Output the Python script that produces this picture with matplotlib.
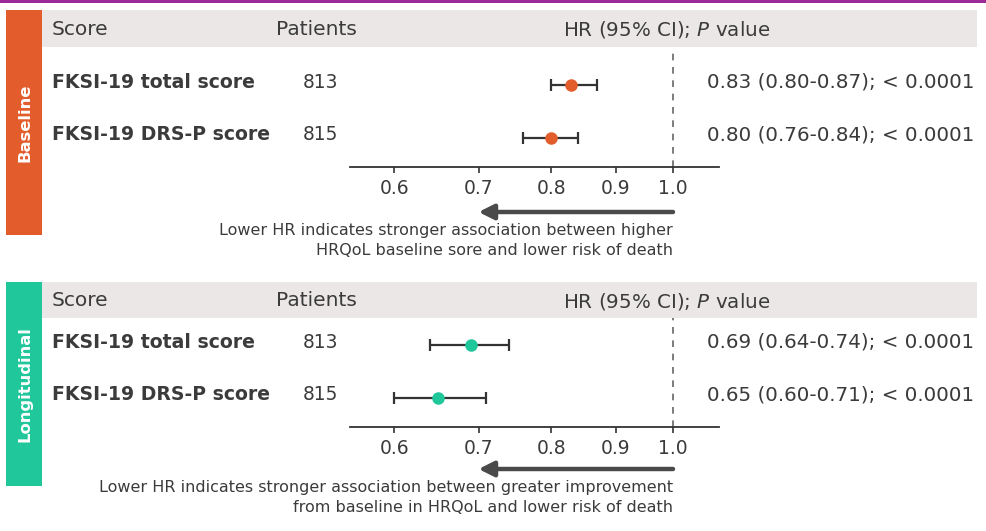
import matplotlib
matplotlib.use("Agg")
import matplotlib.pyplot as plt
from matplotlib.patches import Rectangle

plt.rcParams["font.family"] = ["DejaVu Sans"]
plt.rcParams["mathtext.fontset"] = "dejavusans"

# Data
scores = ["FKSI-19 total score", "FKSI-19 DRS-P score"]
patients = [813, 815]
p_values = ["< 0.0001", "< 0.0001"]

base_hr = [0.83, 0.80]
base_lo = [0.80, 0.76]
base_hi = [0.87, 0.84]

long_hr = [0.69, 0.65]
long_lo = [0.64, 0.60]
long_hi = [0.74, 0.71]

tick_vals = [0.6, 0.7, 0.8, 0.9, 1.0]
tick_labels = ["0.6", "0.7", "0.8", "0.9", "1.0"]

notes = {
    "Baseline": "Lower HR indicates stronger association between higher\nHRQoL baseline sore and lower risk of death",
    "Longitudinal": "Lower HR indicates stronger association between greater improvement\nfrom baseline in HRQoL and lower risk of death",
}

# Colours
orange = "#e35d2c"
teal = "#1fc79b"
header_grey = "#ebe7e7"
txt = "#3b3b3b"
purple = "#9c2a96"

W, H = 987, 531
fig = plt.figure(figsize=(W / 100, H / 100), dpi=100)

bg = fig.add_axes([0, 0, 1, 1])
bg.set_xlim(0, W)
bg.set_ylim(H, 0)
bg.axis("off")

bg.add_patch(Rectangle((0, 0), W, 2.5, color=purple, lw=0))

# layout per panel (pixels): box top, box bottom, header bottom, row ys, axis y
panels = [
    dict(name="Baseline", color=orange, top=10, bottom=235, head_bot=47,
         rows=[85, 138], axis_y=167, hr=base_hr, lo=base_lo, hi=base_hi),
    dict(name="Longitudinal", color=teal, top=282, bottom=486, head_bot=318,
         rows=[345, 398], axis_y=427, hr=long_hr, lo=long_lo, hi=long_hi),
]

x_left, x_right = 350, 719
xmin, xmax = 0.553, 1.088

for p in panels:
    top = p["top"]
    bg.add_patch(Rectangle((6, top), 36, p["bottom"] - top, color=p["color"], lw=0))
    bg.text(25, (top + p["bottom"]) / 2, p["name"], rotation=90, color="white",
            fontsize=11.8, fontweight="bold", ha="center", va="center")
    bg.add_patch(Rectangle((42, top), 935, p["head_bot"] - top, color=header_grey, lw=0))
    hy = (top + p["head_bot"]) / 2 + 1
    bg.text(52, hy, "Score", fontsize=14.5, color=txt, va="center")
    bg.text(276, hy, "Patients", fontsize=14.5, color=txt, va="center")
    bg.text(563, hy, "HR (95% CI); $P$ value", fontsize=14.3, color=txt, va="center")

    for i, ry in enumerate(p["rows"]):
        ty = ry - 3
        bg.text(52, ty, scores[i], fontsize=13.6, fontweight="bold", color=txt, va="center")
        bg.text(303, ty, str(patients[i]), fontsize=13.4, color=txt, va="center")
        val = f"{p['hr'][i]:.2f} ({p['lo'][i]:.2f}-{p['hi'][i]:.2f}); {p_values[i]}"
        bg.text(707, ty, val, fontsize=14.3, color=txt, va="center")

    # forest axes
    ax_h = p["axis_y"] - p["head_bot"]
    ax = fig.add_axes([x_left / W, (H - p["axis_y"]) / H, (x_right - x_left) / W, ax_h / H])
    ax.set_xscale("log")
    ax.set_xlim(xmin, xmax)
    gap = p["rows"][1] - p["rows"][0]
    ax.set_ylim(1 + (p["axis_y"] - p["rows"][1]) / gap, -(p["rows"][0] - p["head_bot"]) / gap)
    ax.patch.set_alpha(0)
    for s in ["top", "right", "left"]:
        ax.spines[s].set_visible(False)
    ax.spines["bottom"].set_color("#333333")
    ax.spines["bottom"].set_linewidth(1.3)
    ax.set_yticks([])
    ax.set_xticks(tick_vals)
    ax.set_xticklabels(tick_labels, fontsize=13.5, color=txt)
    ax.minorticks_off()
    ax.tick_params(axis="x", length=4, width=1.2, color="#333333", pad=5)

    ax.axvline(1.0, color="#666666", ls=(0, (4, 4)), lw=1.2)
    ys = list(range(len(p["hr"])))
    xerr = [[h - l for h, l in zip(p["hr"], p["lo"])], [u - h for h, u in zip(p["hr"], p["hi"])]]
    ax.errorbar(p["hr"], ys, xerr=xerr, fmt="o", color=p["color"], ecolor="#333333",
                elinewidth=1.6, capsize=4, capthick=1.6, markersize=8, zorder=3)

    arrow_y = -(45 / ax_h) if p["name"] == "Baseline" else -(42 / ax_h)
    ax.annotate("", xy=(0.7, arrow_y), xytext=(1.0, arrow_y),
                xycoords=ax.get_xaxis_transform(), textcoords=ax.get_xaxis_transform(),
                arrowprops=dict(arrowstyle="-|>,head_length=0.9,head_width=0.45",
                                lw=3.2, color="#4a4a4a", shrinkA=0, shrinkB=0),
                annotation_clip=False)
    ax.text(1.0, arrow_y - 11 / ax_h, notes[p["name"]], transform=ax.get_xaxis_transform(),
            ha="right", va="top", fontsize=11.55, color=txt, linespacing=1.45)

fig.savefig("out.png", dpi=100)
